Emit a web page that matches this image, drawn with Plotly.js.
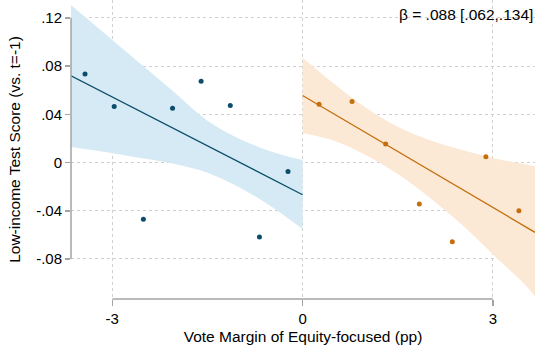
<!DOCTYPE html>
<html>
<head>
<meta charset="utf-8">
<script src="https://cdn.plot.ly/plotly-3.0.1.min.js"></script>
<style>html,body{margin:0;padding:0;background:#fff;}#chart{width:535px;height:349px;}</style>
</head>
<body>
<div id="chart"></div>
<script>
// Binned scatter: left of cutoff (blue)
const blueX = [-3.43, -2.97, -2.51, -2.05, -1.60, -1.14, -0.68, -0.23];
const blueY = [0.0735, 0.0464, -0.0471, 0.0451, 0.0675, 0.0473, -0.0617, -0.0074];
// Binned scatter: right of cutoff (orange)
const orangeX = [0.26, 0.78, 1.31, 1.84, 2.36, 2.89, 3.41];
const orangeY = [0.0484, 0.0506, 0.0153, -0.0344, -0.0658, 0.0048, -0.0399];
// Fitted lines
const blueFitX = [-3.651, 0];
const blueFitY = [0.0719, -0.0267];
const orangeFitX = [0, 3.664];
const orangeFitY = [0.0556, -0.0579];
// Confidence bands
const blueBandX = [-3.651, -3.0, -2.5, -2.0, -1.5, -1.0, -0.5, 0];
const blueBandHi = [0.1306, 0.1017, 0.0795, 0.0573, 0.0346, 0.0197, 0.0092, 0.0021];
const blueBandLo = [0.0128, 0.0077, 0.0033, -0.0014, -0.0084, -0.0205, -0.0362, -0.0552];
const orangeBandX = [0, 0.5, 1.0, 1.5, 2.0, 2.5, 3.0, 3.5, 3.664];
const orangeBandHi = [0.0870, 0.0652, 0.0455, 0.0296, 0.0186, 0.0105, 0.0038, -0.0015, -0.0031];
const orangeBandLo = [0.0245, 0.0180, 0.0060, -0.0095, -0.0290, -0.0510, -0.0760, -0.1010, -0.1110];
// Axis ticks
const yTickVals = [-0.08, -0.04, 0, 0.04, 0.08, 0.12];
const yTickText = ["-.08", "-.04", "0", ".04", ".08", ".12"];
const xTickVals = [-3, 0, 3];
const xTickText = ["-3", "0", "3"];
const annotationText = "β = .088 [.062,.134]";

const BLUE = "#0b4d6b", BLUE_BAND = "#d5eaf4";
const ORANGE = "#c46f0c", ORANGE_BAND = "#fbe8d5";
const AXIS_GRAY = "#a3a3a3";
const FONT = "Liberation Sans, Arial, Helvetica, sans-serif";

function band(x, lo, hi, color) {
  return [
    {x: x, y: lo, type: "scatter", mode: "lines", line: {width: 0, shape: "spline", color: color}, hoverinfo: "skip", showlegend: false},
    {x: x, y: hi, type: "scatter", mode: "lines", fill: "tonexty", fillcolor: color, line: {width: 0, shape: "spline", color: color}, hoverinfo: "skip", showlegend: false}
  ];
}

const data = [
  ...band(blueBandX, blueBandLo, blueBandHi, BLUE_BAND),
  ...band(orangeBandX, orangeBandLo, orangeBandHi, ORANGE_BAND),
  {x: blueFitX, y: blueFitY, type: "scatter", mode: "lines", line: {color: BLUE, width: 1.3}, showlegend: false},
  {x: orangeFitX, y: orangeFitY, type: "scatter", mode: "lines", line: {color: ORANGE, width: 1.3}, showlegend: false},
  {x: blueX, y: blueY, type: "scatter", mode: "markers", marker: {color: BLUE, size: 5}, showlegend: false},
  {x: orangeX, y: orangeY, type: "scatter", mode: "markers", marker: {color: ORANGE, size: 5}, showlegend: false}
];

const yMin = Math.min(...yTickVals), yMax = Math.max(...yTickVals);
const xMin = Math.min(...xTickVals), xMax = Math.max(...xTickVals);

const layout = {
  width: 535, height: 349,
  margin: {l: 71, r: 0, t: 0, b: 50},
  paper_bgcolor: "#fff", plot_bgcolor: "#fff",
  font: {family: FONT, size: 15, color: "#000"},
  showlegend: false,
  xaxis: {
    range: [-3.651, 3.664],
    tickvals: xTickVals, ticktext: xTickText,
    ticks: "outside", ticklen: 6, tickwidth: 1.5, tickcolor: AXIS_GRAY,
    showline: false, zeroline: false,
    showgrid: true, gridcolor: "#d0d0d0", griddash: "dot", gridwidth: 1,
    tickfont: {size: 15, family: FONT},
    title: {text: "Vote Margin of Equity-focused (pp)", font: {size: 15.5, family: FONT}, standoff: 5}
  },
  yaxis: {
    range: [-0.1132, 0.1348],
    tickvals: yTickVals, ticktext: yTickText,
    ticks: "outside", ticklen: 5, tickwidth: 1.5, tickcolor: AXIS_GRAY,
    showline: false, zeroline: false,
    showgrid: true, gridcolor: "#d0d0d0", griddash: "dot", gridwidth: 1,
    tickfont: {size: 15, family: FONT},
    title: {text: "Low-income Test Score (vs. t=-1)", font: {size: 15.5, family: FONT}, standoff: 11}
  },
  shapes: [
    {type: "line", xref: "paper", yref: "y", x0: 0, x1: 0, y0: yMin, y1: yMax, line: {color: AXIS_GRAY, width: 1.5}, layer: "above"},
    {type: "line", xref: "x", yref: "paper", x0: xMin, x1: xMax, y0: 0, y1: 0, line: {color: AXIS_GRAY, width: 1.5}, layer: "above"}
  ],
  annotations: [
    {text: annotationText, xref: "paper", yref: "paper", x: 1, y: 0.953, xanchor: "right", yanchor: "middle", showarrow: false, font: {size: 15.5, family: FONT, color: "#000"}}
  ]
};

Plotly.newPlot("chart", data, layout, {staticPlot: true, displayModeBar: false});
</script>
</body>
</html>
